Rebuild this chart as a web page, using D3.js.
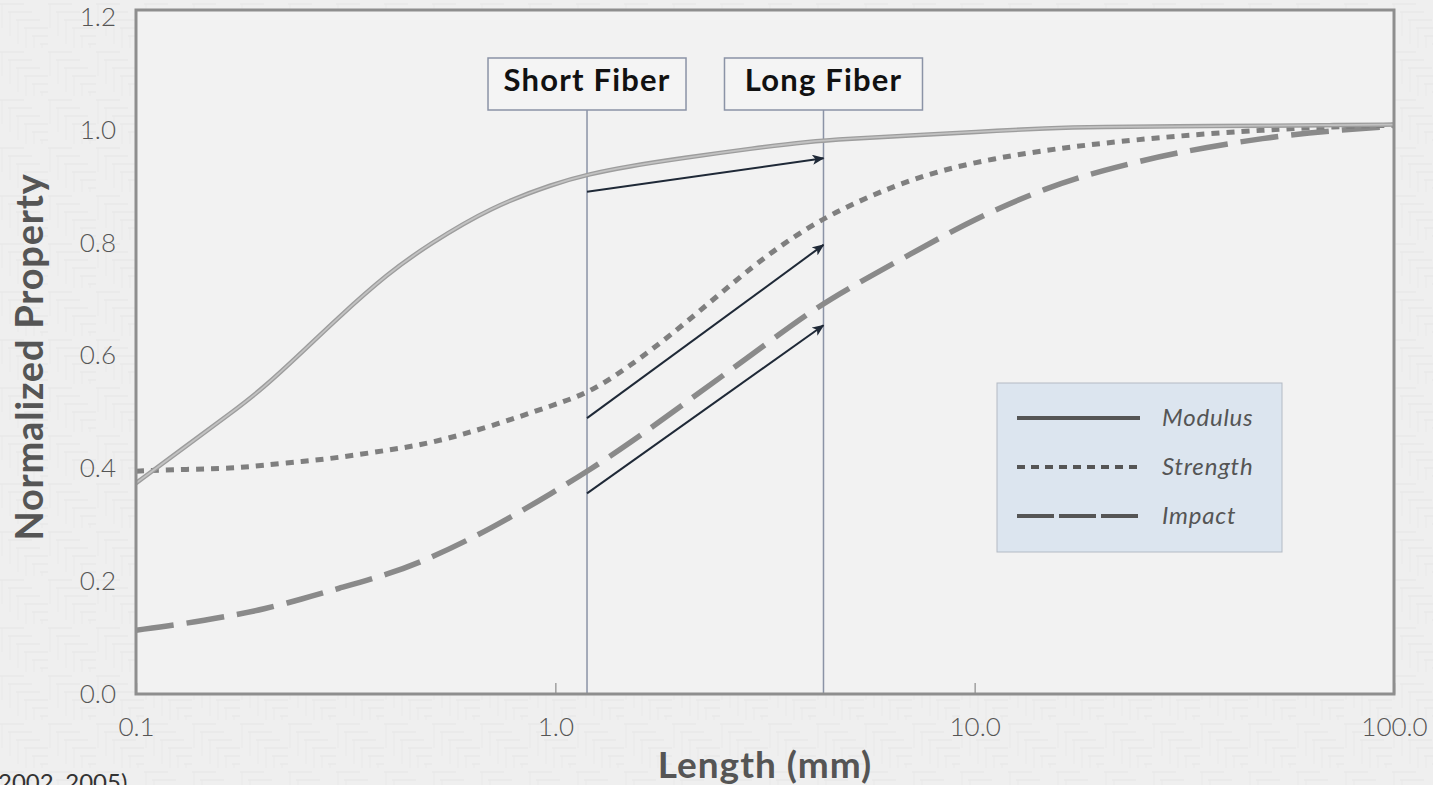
<!DOCTYPE html>
<html>
<head>
<meta charset="utf-8">
<script src="https://cdn.jsdelivr.net/npm/d3@7"></script>
<style>
  html, body { margin: 0; padding: 0; background: #efefef; overflow: hidden; }
  svg { display: block; font-family: Lato, "Open Sans", sans-serif; }
</style>
</head>
<body>
<div id="chart"></div>
<script>
// fiber length (mm) and normalized property
var lengths  = [0.1, 0.13, 0.17, 0.2, 0.25, 0.3, 0.4, 0.5, 0.7, 1.0, 1.2, 1.5, 2, 3, 4, 5, 7, 10, 15, 20, 30, 50, 70, 100];
var modulus  = [0.370, 0.432, 0.495, 0.535, 0.601, 0.657, 0.739, 0.789, 0.854, 0.896, 0.912, 0.926, 0.940, 0.958, 0.969, 0.974, 0.980, 0.986, 0.993, 0.995, 0.996, 0.997, 0.998, 0.999];
var strength = [0.391, 0.394, 0.396, 0.401, 0.408, 0.414, 0.428, 0.439, 0.469, 0.508, 0.528, 0.574, 0.644, 0.756, 0.819, 0.857, 0.903, 0.934, 0.955, 0.966, 0.979, 0.990, 0.995, 0.998];
var impact   = [0.112, 0.123, 0.138, 0.148, 0.167, 0.184, 0.210, 0.237, 0.289, 0.356, 0.392, 0.439, 0.506, 0.600, 0.668, 0.712, 0.771, 0.834, 0.890, 0.918, 0.950, 0.977, 0.988, 0.996];

var seriesNames = ["Modulus", "Strength", "Impact"];

var fiberLabels  = ["Short Fiber", "Long Fiber"];
var fiberLengths = [1.19, 4.36];

// arrows go from the short fiber line to the long fiber line
var arrowFrom = [0.881, 0.484, 0.352];
var arrowTo   = [0.940, 0.788, 0.647];

var xTicks = [0.1, 1, 10, 100];
var yTicks = [0, 0.2, 0.4, 0.6, 0.8, 1.0, 1.2];

var W = 1433, H = 785;
var margin = {top: 10, right: 39, bottom: 91, left: 136},
    width = W - margin.left - margin.right,
    height = H - margin.top - margin.bottom;

var svg = d3.select("#chart").append("svg")
    .attr("width", W)
    .attr("height", H);

// faint background texture
var defs = svg.append("defs");
var pat = defs.append("pattern")
    .attr("id", "bgpat")
    .attr("patternUnits", "userSpaceOnUse")
    .attr("width", 48).attr("height", 48);
pat.append("rect").attr("width", 48).attr("height", 48).attr("fill", "#efefef");
for (var k = 0; k < 6; k++) {
    pat.append("line")
        .attr("x1", k * 8).attr("x2", k * 8 + 24)
        .attr("y1", k * 8 + 4).attr("y2", k * 8 + 4)
        .attr("stroke", "#e6e6e6").attr("stroke-width", 1);
    pat.append("line")
        .attr("x1", k * 8 + 2).attr("x2", k * 8 + 2)
        .attr("y1", k * 8 + 4).attr("y2", k * 8 + 28)
        .attr("stroke", "#e9e9e9").attr("stroke-width", 1);
}
svg.append("rect").attr("width", W).attr("height", H).attr("fill", "url(#bgpat)");

defs.append("clipPath").attr("id", "plotclip")
  .append("rect").attr("width", width).attr("height", height);

defs.append("marker")
    .attr("id", "arrowhead")
    .attr("viewBox", "0 0 12 10")
    .attr("refX", 11).attr("refY", 5)
    .attr("markerWidth", 12).attr("markerHeight", 10)
    .attr("markerUnits", "userSpaceOnUse")
    .attr("orient", "auto")
  .append("path")
    .attr("d", "M0,0 L12,5 L0,10 L3,5 Z")
    .attr("fill", "#1f2937");

var g = svg.append("g")
    .attr("transform", "translate(" + margin.left + "," + margin.top + ")");

var x = d3.scaleLog()
    .domain([0.1, 100])
    .range([0, width]);
var y = d3.scaleLinear()
    .domain([0, 1.2])
    .range([height, 0]);
// tick labels sit a little lower than their ticks toward the top
var yLab = d3.scaleLinear()
    .domain([0, 1.2])
    .range([height, 7]);

// plot area
g.append("rect")
    .attr("width", width)
    .attr("height", height)
    .attr("fill", "#f2f2f2");

// axes
var xAxis = g.append("g")
    .attr("transform", "translate(0," + height + ")")
    .call(d3.axisBottom(x).tickValues(xTicks).tickFormat(d3.format(".1f"))
        .tickSizeInner(-11).tickSizeOuter(0).tickPadding(24));
xAxis.select(".domain").remove();
xAxis.selectAll("line").attr("stroke", "#a0a0a0").attr("stroke-width", 1.5);
xAxis.selectAll("text")
    .attr("font-size", 26).attr("font-weight", 300)
    .attr("font-family", "Lato, sans-serif").attr("fill", "#555");

var yAxis = g.append("g")
    .call(d3.axisLeft(y).tickValues(yTicks).tickFormat(d3.format(".1f"))
        .tickSize(0).tickPadding(20));
yAxis.select(".domain").remove();
yAxis.selectAll("text")
    .attr("y", function(d) { return yLab(d) - y(d); })
    .attr("font-size", 26).attr("font-weight", 300)
    .attr("font-family", "Lato, sans-serif").attr("fill", "#555");

// fiber length markers
var fibers = g.selectAll(".fiber")
    .data(fiberLabels)
    .enter().append("g")
    .attr("class", "fiber")
    .attr("transform", function(d, i) { return "translate(" + x(fiberLengths[i]) + ",0)"; });

fibers.append("line")
    .attr("y1", 100).attr("y2", height)
    .attr("stroke", "#8b93a6").attr("stroke-width", 1.5);
fibers.append("rect")
    .attr("x", -99).attr("y", 48)
    .attr("width", 198).attr("height", 52)
    .attr("fill", "#f4f4f4")
    .attr("stroke", "#8b93a6").attr("stroke-width", 1.5);
fibers.append("text")
    .attr("y", 81)
    .attr("text-anchor", "middle")
    .attr("font-size", 31).attr("font-weight", 700)
    .attr("letter-spacing", 1.2)
    .attr("fill", "#111")
    .text(function(d) { return d; });

// curves
var plot = g.append("g").attr("clip-path", "url(#plotclip)");

function linePath(vals) {
    return d3.line()
        .x(function(d, i) { return x(lengths[i]); })
        .y(function(d) { return y(d); })
        .curve(d3.curveBasis)(vals);
}

plot.append("path")
    .attr("d", linePath(impact))
    .attr("fill", "none")
    .attr("stroke", "#8a8a8a").attr("stroke-width", 5.5)
    .attr("stroke-dasharray", "38,13");

plot.append("path")
    .attr("d", linePath(strength))
    .attr("fill", "none")
    .attr("stroke", "#7f7f7f").attr("stroke-width", 5)
    .attr("stroke-dasharray", "8,7");

plot.append("path")
    .attr("d", linePath(modulus))
    .attr("fill", "none")
    .attr("stroke", "#9d9d9d").attr("stroke-width", 4.5);
plot.append("path")
    .attr("d", linePath(modulus))
    .attr("fill", "none")
    .attr("stroke", "#c2c2c2").attr("stroke-width", 1.8);

// arrows
g.selectAll(".arrow")
    .data(arrowFrom)
    .enter().append("line")
    .attr("class", "arrow")
    .attr("x1", x(fiberLengths[0]))
    .attr("y1", function(d) { return y(d); })
    .attr("x2", x(fiberLengths[1]))
    .attr("y2", function(d, i) { return y(arrowTo[i]); })
    .attr("stroke", "#1f2937").attr("stroke-width", 2)
    .attr("marker-end", "url(#arrowhead)");

// frame
g.append("rect")
    .attr("width", width)
    .attr("height", height)
    .attr("fill", "none")
    .attr("stroke", "#8e8e8e").attr("stroke-width", 3);

// legend
var legend = g.append("g")
    .attr("transform", "translate(" + (997 - margin.left) + "," + (383 - margin.top) + ")");
legend.append("rect")
    .attr("width", 285).attr("height", 169)
    .attr("fill", "#dce5ef")
    .attr("stroke", "#b3bac4").attr("stroke-width", 1);

var legendDash = ["none", "8,6", "37,5"];
var items = legend.selectAll(".item")
    .data(seriesNames)
    .enter().append("g")
    .attr("class", "item")
    .attr("transform", function(d, i) { return "translate(0," + (35 + i * 49) + ")"; });
items.append("line")
    .attr("x1", 20).attr("x2", 143)
    .attr("stroke", "#555").attr("stroke-width", 4)
    .attr("stroke-dasharray", function(d, i) { return legendDash[i]; });
items.append("text")
    .attr("x", 165).attr("y", 8)
    .attr("font-size", 24).attr("font-style", "italic")
    .attr("letter-spacing", 0.8)
    .attr("fill", "#555")
    .text(function(d) { return d; });

// axis titles
svg.append("text")
    .attr("transform", "translate(43," + 357 + ") rotate(-90)")
    .attr("text-anchor", "middle")
    .attr("font-size", 38).attr("font-weight", 700)
    .attr("letter-spacing", 0.8)
    .attr("fill", "#555")
    .text("Normalized Property");

svg.append("text")
    .attr("x", 765).attr("y", 778)
    .attr("text-anchor", "middle")
    .attr("font-size", 37).attr("font-weight", 700)
    .attr("letter-spacing", 1)
    .attr("fill", "#555")
    .text("Length (mm)");

// source note, cut at the page edge
svg.append("text")
    .attr("x", -2).attr("y", 791)
    .attr("font-size", 24)
    .attr("fill", "#333")
    .text("2002, 2005)");
</script>
</body>
</html>
